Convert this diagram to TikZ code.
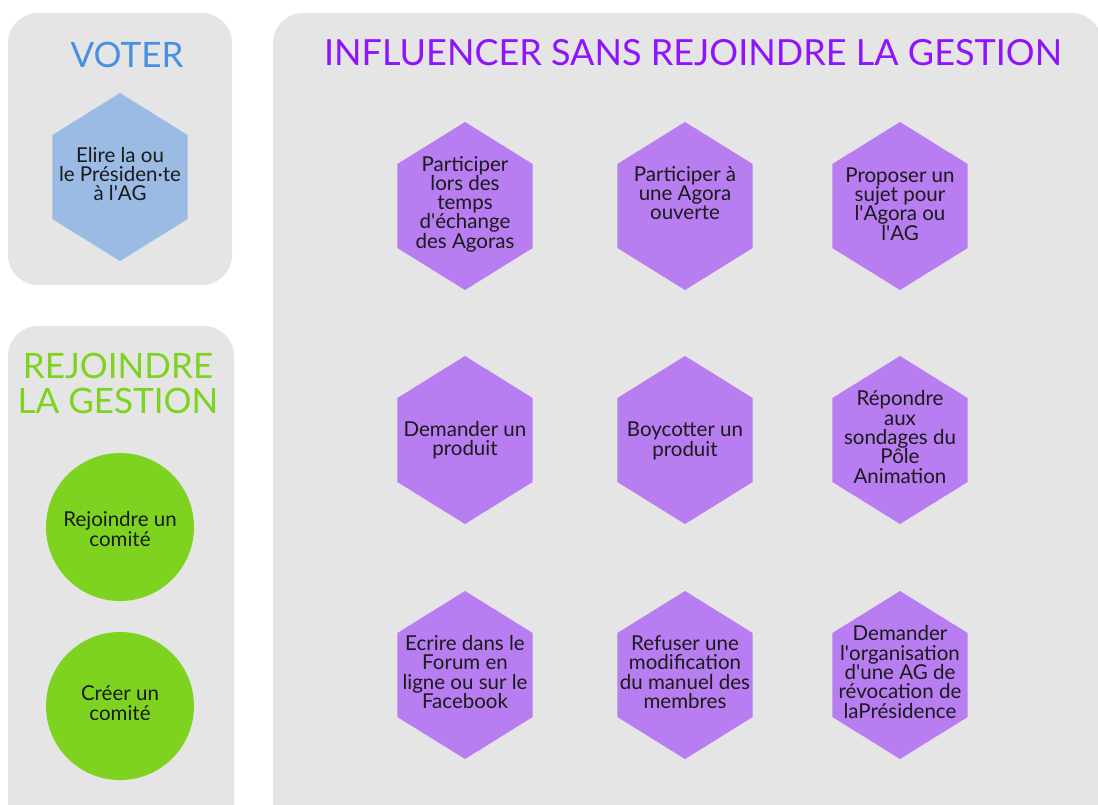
\documentclass[tikz,border=0pt]{standalone}
\usepackage{fontspec}
\setmainfont{Lato}
\usetikzlibrary{shapes.geometric}
\definecolor{panelgray}{RGB}{229,229,229}
\definecolor{voterblue}{RGB}{74,144,226}
\definecolor{hexblue}{RGB}{155,187,228}
\definecolor{joingreen}{RGB}{126,211,33}
\definecolor{infpurple}{RGB}{144,19,254}
\definecolor{hexpurple}{RGB}{184,125,240}
\definecolor{textdark}{RGB}{26,26,26}
\newcommand{\apos}{\textquotesingle}
\tikzset{
  panel/.style={fill=panelgray, rounded corners=30pt},
  hexa/.style={regular polygon, regular polygon sides=6, shape border rotate=90,
    minimum size=168pt, inner sep=0pt, xscale=0.93},
  bubble/.style={circle, minimum size=148pt, inner sep=0pt, fill=joingreen},
  hextext/.style={align=center, text=textdark, inner sep=0pt,
    font=\fontsize{20.5}{19.3}\selectfont},
  title/.style={align=center, font=\fontsize{35}{35}\selectfont}
}

\begin{document}
\begin{tikzpicture}[x=1pt,y=-1pt]
  \useasboundingbox (0,0) rectangle (1098,804);
  \clip (0,0) rectangle (1098,804);
  \def\colA{465}
  \def\colB{685}
  \def\colC{900}
  \def\rowA{206}
  \def\rowB{440}
  \def\rowC{675}

  % panels
  \fill[panel] (8,13) rectangle (232,285);
  \fill[panel] (8,326) rectangle (234,860);
  \fill[panel] (273,13) rectangle (1102,860);

  % Voter
  \node[title,text=voterblue] (voter) at (127,55) {VOTER};
  \node[hexa,fill=hexblue] (elire) at (120,177) {};
  \node[hextext,yshift=3pt] at (elire) {Elire la ou\\le Présiden·te\\à l\apos AG};

  % Rejoindre la gestion
  \node[title,text=joingreen] (gestion) at (118,383) {REJOINDRE\\LA GESTION};
  \node[bubble] (comite) at (120,527) {};
  \node[hextext,yshift=-2pt] at (comite) {Rejoindre un\\comité};
  \node[bubble] (creer) at (120,706) {};
  \node[hextext,yshift=3pt] at (creer) {Créer un\\comité};

  % Influencer sans rejoindre la gestion
  \node[title,text=infpurple,font=\fontsize{36}{36}\selectfont] (influencer)
    at (693,53) {INFLUENCER SANS REJOINDRE LA GESTION};

  % first row
  \node[hexa,fill=hexpurple] (temps) at (\colA,\rowA) {};
  \node[hextext,yshift=2pt] at (temps) {Participer\\lors des\\temps\\d\apos échange\\des Agoras};
  \node[hexa,fill=hexpurple] (agora) at (\colB,\rowA) {};
  \node[hextext,yshift=13pt] at (agora) {Participer à\\une Agora\\ouverte};
  \node[hexa,fill=hexpurple] (sujet) at (\colC,\rowA) {};
  \node[hextext,yshift=2pt] at (sujet) {Proposer un\\sujet pour\\l\apos Agora ou\\l\apos AG};

  % second row
  \node[hexa,fill=hexpurple] (demander) at (\colA,\rowB) {};
  \node[hextext] at (demander) {Demander un\\produit};
  \node[hexa,fill=hexpurple] (boycott) at (\colB,\rowB) {};
  \node[hextext,yshift=-1pt] at (boycott) {Boycotter un\\produit};
  \node[hexa,fill=hexpurple] (sondage) at (\colC,\rowB) {};
  \node[hextext,yshift=3pt] at (sondage) {Répondre\\aux\\sondages du\\Pôle\\Animation};

  % third row
  \node[hexa,fill=hexpurple] (forum) at (\colA,\rowC) {};
  \node[hextext,yshift=3pt] at (forum) {Ecrire dans le\\Forum en\\ligne ou sur le\\Facebook};
  \node[hexa,fill=hexpurple] (manuel) at (\colB,\rowC) {};
  \node[hextext,yshift=3pt] at (manuel) {Refuser une\\modification\\du manuel des\\membres};
  \node[hexa,fill=hexpurple] (revoc) at (\colC,\rowC) {};
  \node[hextext,yshift=3pt] at (revoc) {Demander\\l\apos organisation\\d\apos une AG de\\révocation de\\laPrésidence};
\end{tikzpicture}
\end{document}
